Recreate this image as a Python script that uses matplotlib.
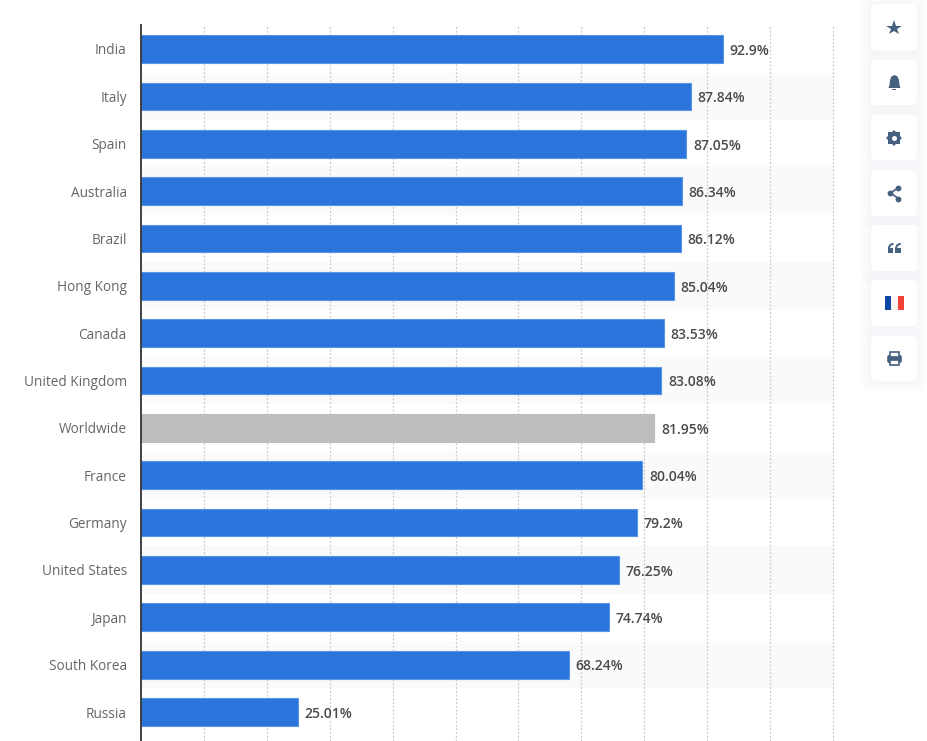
import matplotlib
matplotlib.use("Agg")
import matplotlib.pyplot as plt
from matplotlib.patches import FancyBboxPatch, Rectangle, Wedge, Polygon

paises = ["India", "Italy", "Spain", "Australia", "Brazil", "Hong Kong", "Canada",
          "United Kingdom", "Worldwide", "France", "Germany", "United States",
          "Japan", "South Korea", "Russia"]
valores = [92.9, 87.84, 87.05, 86.34, 86.12, 85.04, 83.53, 83.08, 81.95, 80.04,
           79.2, 76.25, 74.74, 68.24, 25.01]
etiquetas = ["92.9%", "87.84%", "87.05%", "86.34%", "86.12%", "85.04%", "83.53%",
             "83.08%", "81.95%", "80.04%", "79.2%", "76.25%", "74.74%", "68.24%", "25.01%"]
resaltado = "Worldwide"
marcas_x = [10, 20, 30, 40, 50, 60, 70, 80, 90, 100, 110]

azul = "#2a74dc"
borde = "#5a94e4"
gris = "#bdbdbd"
icono = "#46607f"

W, H = 928, 741
fig = plt.figure(figsize=(W / 100, H / 100), dpi=100)
caja = [141 / W, 0, (833 - 141) / W, (741 - 25) / H]
paso = 47.36
lim_y = ((741 - 49) / paso, -(49 - 25) / paso)

# fondo: franjas y rejilla, con su propia escala (la original no coincide con las barras)
fondo = fig.add_axes(caja, zorder=0)
fondo.set_xlim(0, 110)
fondo.set_ylim(*lim_y)
for i in range(1, len(paises), 2):
    fondo.axhspan(i - 0.5, i + 0.5, color="#fafafa", lw=0, zorder=0)
for m in marcas_x:
    fondo.axvline(m, color="#c9c9c9", linestyle=(0, (1.5, 1.5)), linewidth=0.9, clip_on=False, zorder=1)
fondo.set_xticks([])
fondo.set_yticks([])
for s in fondo.spines.values():
    s.set_visible(False)

# barras
ax = fig.add_axes(caja, zorder=1, facecolor="none")
ax.set_xlim(0, 692 / 6.265)
ax.set_ylim(*lim_y)
colores = [gris if p == resaltado else azul for p in paises]
bordes = [gris if p == resaltado else borde for p in paises]
ax.barh(range(len(paises)), valores, height=0.585, color=colores, edgecolor=bordes,
        linewidth=0.8, zorder=2)

ax.set_xticks([])
ax.set_yticks(range(len(paises)))
ax.set_yticklabels(paises, fontfamily="Open Sans", fontsize=9.8, color="#666666")
ax.tick_params(axis="y", length=0, pad=10.2)

for i, (v, t) in enumerate(zip(valores, etiquetas)):
    ax.annotate(t, (v, i), xytext=(4.7, -1.3), textcoords="offset points", va="center",
                fontfamily="Open Sans", fontweight="semibold", fontsize=10,
                color="#4a4a4a", zorder=3)

for s in ["top", "right", "bottom"]:
    ax.spines[s].set_visible(False)
ax.spines["left"].set_color("#333333")
ax.spines["left"].set_linewidth(1.3)

# barra lateral de botones
ui = fig.add_axes([0, 0, 1, 1], facecolor="none", zorder=2)
ui.set_xlim(0, W)
ui.set_ylim(H, 0)
ui.axis("off")

botones = [(4, 50), (60, 105), (115, 160), (170, 216), (225, 271), (280, 326), (336, 381)]
for y0, y1 in botones:
    for k, a in zip([10, 7, 4, 2], [0.006, 0.008, 0.01, 0.012]):
        ui.add_patch(FancyBboxPatch((871 - k, y0 - k + 1), 46 + 2 * k, y1 - y0 + 2 * k,
                                    boxstyle="round,pad=0,rounding_size=7", fc="#46607f",
                                    ec="none", alpha=a))
    ui.add_patch(FancyBboxPatch((871, y0), 46, y1 - y0, boxstyle="round,pad=0,rounding_size=5",
                                fc="white", ec="none"))

cx = 894.5
# estrella
ui.plot([cx], [28], marker="*", ms=11.5, color=icono, mew=0)
# campana
ui.add_patch(Polygon([(cx - 4.5, 80), (cx - 3, 76.5), (cx, 75), (cx + 3, 76.5), (cx + 4.5, 80),
                      (cx + 5, 85), (cx + 6, 88), (cx - 6, 88), (cx - 5, 85)], fc=icono, ec="none"))
ui.add_patch(Rectangle((cx - 2, 88.5), 4, 1.5, fc=icono, ec="none"))
# engrane
ui.plot([cx], [138], marker="s", ms=8, color=icono, mew=0)
ui.plot([cx], [138], marker="D", ms=8, color=icono, mew=0)
ui.plot([cx], [138], marker="o", ms=3.6, color="white", mew=0)
# compartir
ui.plot([cx + 4, cx - 4, cx + 4], [187.5, 193, 198.5], color=icono, lw=1.2)
ui.plot([cx + 4, cx - 4, cx + 4], [187.5, 193, 198.5], "o", ms=4.2, color=icono, mew=0)
# comillas
for dx in [-3.6, 3.6]:
    ui.add_patch(Rectangle((cx + dx - 3, 248), 5.6, 4.8, fc=icono, ec="none"))
    ui.add_patch(Wedge((cx + dx + 2.6, 248.5), 5.6, 180, 270, width=2, fc=icono, ec="none"))
# bandera
ui.add_patch(Rectangle((885, 296), 6.5, 14, fc="#0d47a1", ec="none"))
ui.add_patch(Rectangle((891.5, 296), 6.5, 14, fc="#fbf6f4", ec="none"))
ui.add_patch(Rectangle((898, 296), 6.5, 14, fc="#f44336", ec="none"))
# impresora
ui.add_patch(FancyBboxPatch((887.2, 355), 14.6, 8, boxstyle="round,pad=0,rounding_size=2", fc=icono, ec="none"))
ui.add_patch(Rectangle((890, 351.8), 9, 5, fc="white", ec=icono, lw=1.2))
ui.add_patch(Rectangle((890.2, 360), 8.6, 4.8, fc="white", ec=icono, lw=1.2))

fig.savefig("out.png", dpi=100)
